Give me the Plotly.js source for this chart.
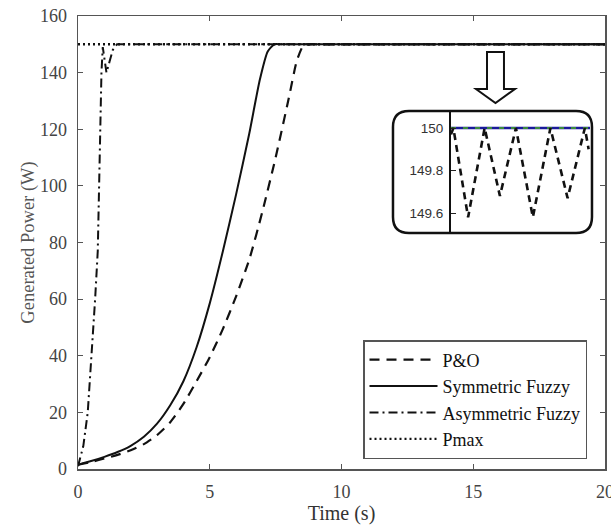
<!DOCTYPE html>
<html><head><meta charset="utf-8">
<script src="https://cdn.plot.ly/plotly-3.0.1.min.js"></script>
<style>body{margin:0;background:#fff}#chart{width:611px;height:529px}</style>
</head><body><div id="chart"></div>
<script>
// ---- data ----
const poT   = [0, 0.5, 1, 1.5, 2, 2.5, 3, 3.5, 4, 4.5, 5, 5.5, 6, 6.5, 7, 7.5, 8, 8.3, 8.55, 8.8, 9.1, 20];
const poP   = [1.5, 2.5, 3.7, 5, 6.6, 8.8, 12, 16.5, 23, 31, 39.5, 49.5, 61, 74, 91, 110, 131, 144, 149.5, 150, 150, 150];
const symT  = [0, 0.5, 1, 1.5, 2, 2.5, 3, 3.5, 4, 4.5, 5, 5.5, 6, 6.5, 6.9, 7.2, 7.45, 7.7, 8.0, 20];
const symP  = [1.5, 2.8, 4.3, 6, 8.2, 11.4, 16, 22.5, 31, 43, 58.5, 77, 97, 118.5, 137.5, 147.5, 150, 150, 150, 150];
const asyT  = [0, 0.2, 0.37, 0.52, 0.65, 0.75, 0.8, 0.89, 0.94, 1.0, 1.08, 1.2, 1.32, 1.48, 20];
const asyP  = [1, 8, 20, 40, 60, 77, 100, 140, 149, 145, 140, 144, 148, 150, 150];
const pmaxT = [0, 20];
const pmaxP = [150, 150];
// zoomed inset (steady-state P&O oscillation), arbitrary time axis 0..1
const insT  = [0, 0.017, 0.123, 0.242, 0.352, 0.467, 0.589, 0.715, 0.839, 0.963, 0.99];
const insPO = [149.97, 150, 149.58, 150, 149.68, 150, 149.58, 150, 149.67, 150, 149.9];
const insRefT = [0, 1];
const insRefP = [150, 150];
const names = ['P&O', 'Symmetric Fuzzy', 'Asymmetric Fuzzy', 'Pmax'];
const yTicks = [0, 20, 40, 60, 80, 100, 120, 140, 160];
const xTicks = [0, 5, 10, 15, 20];
const insTicks = [149.6, 149.8, 150];

// ---- geometry helpers for decorations (plot area in px) ----
const L = 78, R = 605, T = 16, B = 469;
const W = R - L, H = B - T;
const P = (px, py) => ((px - L) / W).toFixed(4) + ',' + ((B - py) / H).toFixed(4);

const SERIF = 'Liberation Serif, Times New Roman, serif';

const traces = [
  {x: poT, y: poP, name: names[0], mode: 'lines', legendgroup: 'a',
   line: {color: '#111', width: 2.2, dash: '10px,7px', shape: 'spline', smoothing: 0.6}},
  {x: symT, y: symP, name: names[1], mode: 'lines', legendgroup: 'b',
   line: {color: '#111', width: 2, shape: 'spline', smoothing: 0.6}},
  {x: asyT, y: asyP, name: names[2], mode: 'lines', legendgroup: 'c',
   line: {color: '#111', width: 2, dash: '9px,4px,2px,4px'}},
  {x: pmaxT, y: pmaxP, name: names[3], mode: 'lines', legendgroup: 'd',
   line: {color: '#111', width: 2.4, dash: '2px,3px'}},
  // inset
  {x: insRefT, y: insRefP, xaxis: 'x2', yaxis: 'y2', mode: 'lines', showlegend: false,
   line: {color: '#1a1a9a', width: 2.4}},
  {x: insRefT, y: insRefP, xaxis: 'x2', yaxis: 'y2', mode: 'lines', showlegend: false,
   line: {color: '#3c8c3c', width: 2, dash: '5px,7px'}},
  {x: insT, y: insPO, xaxis: 'x2', yaxis: 'y2', mode: 'lines', showlegend: false,
   line: {color: '#111', width: 2.6, dash: '7px,5px'}}
];

// rounded inset frame
const bx0 = 393, bx1 = 592, by0 = 111, by1 = 233, r = 16;
const framePath = 'M' + P(bx0 + r, by0) + ' L' + P(bx1 - r, by0) + ' Q' + P(bx1, by0) + ' ' + P(bx1, by0 + r) +
  ' L' + P(bx1, by1 - r) + ' Q' + P(bx1, by1) + ' ' + P(bx1 - r, by1) +
  ' L' + P(bx0 + r, by1) + ' Q' + P(bx0, by1) + ' ' + P(bx0, by1 - r) +
  ' L' + P(bx0, by0 + r) + ' Q' + P(bx0, by0) + ' ' + P(bx0 + r, by0) + ' Z';
// hollow down arrow
const arrowPath = 'M' + P(487, 52) + ' L' + P(504, 52) + ' L' + P(504, 89) + ' L' + P(515, 89) +
  ' L' + P(495.5, 103) + ' L' + P(476, 89) + ' L' + P(487, 89) + ' Z';

const layout = {
  width: 611, height: 529,
  margin: {l: L, r: 611 - R, t: T, b: 529 - B},
  paper_bgcolor: '#fff', plot_bgcolor: 'rgba(0,0,0,0)',
  showlegend: true,
  font: {family: SERIF, color: '#444'},
  xaxis: {
    range: [0, 20], tickvals: xTicks, ticktext: xTicks.map(String),
    ticks: 'inside', ticklen: 5, tickcolor: '#555', tickwidth: 1,
    showline: true, linecolor: '#555', linewidth: 1.5, mirror: 'ticks',
    showgrid: false, zeroline: false, ticklabeloverflow: 'allow',
    tickfont: {family: SERIF, size: 18, color: '#444'},
    ticklabelstandoff: 6,
    title: {text: 'Time (s)', font: {family: SERIF, size: 20, color: '#333'}, standoff: 0}
  },
  yaxis: {
    range: [0, 160], tickvals: yTicks, ticktext: yTicks.map(String),
    ticks: 'inside', ticklen: 5, tickcolor: '#555', tickwidth: 1,
    showline: true, linecolor: '#555', linewidth: 1.5, mirror: 'ticks',
    showgrid: false, zeroline: false,
    tickfont: {family: SERIF, size: 18, color: '#444'},
    ticklabelstandoff: 6,
    title: {text: 'Generated Power (W)', font: {family: SERIF, size: 18.5, color: '#555'}, standoff: 0}
  },
  xaxis2: {
    domain: [(451 - L) / W, (590 - L) / W], range: [0, 1], anchor: 'y2',
    visible: false, showgrid: false, zeroline: false
  },
  yaxis2: {
    domain: [(B - 233) / H, (B - 111) / H], range: [149.506, 150.08], anchor: 'x2',
    tickvals: insTicks, ticktext: ['149.6', '149.8', '150'],
    ticks: 'inside', ticklen: 5, tickcolor: '#222',
    showline: true, linecolor: '#111', linewidth: 2,
    showgrid: false, zeroline: false,
    tickfont: {family: 'Liberation Sans, Arial, sans-serif', size: 13.5, color: '#333'},
    ticklabelstandoff: 3
  },
  legend: {
    x: (363 - L) / W, y: (B - 340) / H, xanchor: 'left', yanchor: 'top',
    bgcolor: '#fff', bordercolor: '#555', borderwidth: 1.5,
    font: {family: SERIF, size: 18, color: '#111'},
    itemwidth: 68, tracegroupgap: 6, traceorder: 'normal'
  },
  shapes: [
    {type: 'path', xref: 'paper', yref: 'paper', path: framePath,
     line: {color: '#111', width: 2.5}, fillcolor: 'rgba(0,0,0,0)', layer: 'above'},
    {type: 'path', xref: 'paper', yref: 'paper', path: arrowPath,
     line: {color: '#111', width: 2}, fillcolor: '#fff', layer: 'above'}
  ]
};

Plotly.newPlot('chart', traces, layout, {displayModeBar: false, staticPlot: true});
</script>
</body></html>
